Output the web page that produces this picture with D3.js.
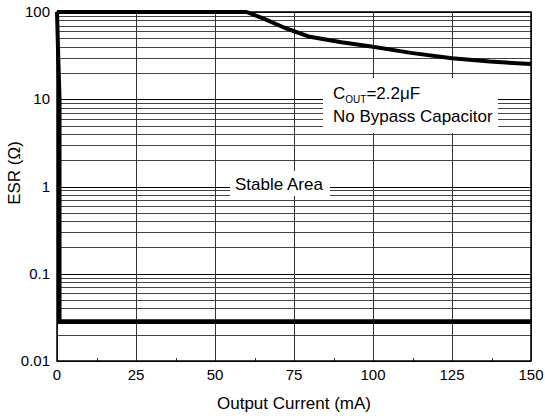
<!DOCTYPE html>
<html>
<head>
<meta charset="utf-8">
<script src="https://cdn.jsdelivr.net/npm/d3@7"></script>
<style>
  body { margin: 0; background: #fff; }
  text { font-family: "Liberation Sans", Arial, sans-serif; fill: #000; }
</style>
</head>
<body>
<div class="main"></div>
<script>
// data
var xTicks = [0, 25, 50, 75, 100, 125, 150];
var yTicks = [0.01, 0.1, 1, 10, 100];
var yTickLabels = ['0.01', '0.1', '1', '10', '100'];

// upper stability boundary
var upperCurrent = [0, 60, 65, 72, 80, 90, 100, 112, 125, 137, 150];
var upperEsr = [100, 100, 85, 66, 52, 45, 40, 34, 29.5, 27, 25.3];

// lower/left stability boundary
var lowerCurrent = [0, 0.4, 0.8, 0.8, 150];
var lowerEsr = [100, 30, 10, 0.028, 0.028];

var svg = d3.select('.main')
    .append('svg')
    .attr('width', 545)
    .attr('height', 419);

var x = d3.scaleLinear().domain([0, 150]).range([57, 531]);
var y = d3.scaleLog().domain([0.01, 100]).range([361, 12]);

// horizontal grid: decades and minor lines
var minor = [];
[0.01, 0.1, 1, 10].forEach(function (d) {
    for (var k = 2; k <= 9; k++) minor.push(d * k);
});

svg.selectAll('.minor')
    .data(minor)
    .enter()
    .append('line')
    .attr('class', 'minor')
    .attr('x1', x(0))
    .attr('x2', x(150))
    .attr('y1', function (d) { return Math.round(y(d)) + 0.5; })
    .attr('y2', function (d) { return Math.round(y(d)) + 0.5; })
    .style('stroke', '#444')
    .style('stroke-width', '1px');

svg.selectAll('.major')
    .data(yTicks)
    .enter()
    .append('line')
    .attr('class', 'major')
    .attr('x1', x(0))
    .attr('x2', x(150))
    .attr('y1', function (d) { return Math.round(y(d)) + 0.5; })
    .attr('y2', function (d) { return Math.round(y(d)) + 0.5; })
    .style('stroke', '#000')
    .style('stroke-width', '1px');

svg.selectAll('.vgrid')
    .data(xTicks)
    .enter()
    .append('line')
    .attr('class', 'vgrid')
    .attr('x1', function (d) { return Math.round(x(d)) + 0.5; })
    .attr('x2', function (d) { return Math.round(x(d)) + 0.5; })
    .attr('y1', y(100))
    .attr('y2', y(0.01))
    .style('stroke', '#333')
    .style('stroke-width', '1px');

// minor x ticks
svg.selectAll('.xminor')
    .data([12.5, 37.5, 62.5, 87.5, 112.5, 137.5])
    .enter()
    .append('line')
    .attr('x1', function (d) { return Math.round(x(d)) + 0.5; })
    .attr('x2', function (d) { return Math.round(x(d)) + 0.5; })
    .attr('y1', y(0.01))
    .attr('y2', y(0.01) - 3)
    .style('stroke', '#333');

// frame
svg.append('rect')
    .attr('x', x(0))
    .attr('y', y(100))
    .attr('width', x(150) - x(0))
    .attr('height', y(0.01) - y(100))
    .style('fill', 'none')
    .style('stroke', '#000')
    .style('stroke-width', '1.5px');

// label boxes (white, cover gridlines)
function note(x0, y0, w, h) {
    svg.append('rect')
        .attr('x', x0).attr('y', y0)
        .attr('width', w).attr('height', h)
        .style('fill', '#fff');
}
note(323, 78, 175, 55);
note(230, 171, 100, 25);

var label = svg.append('text')
    .attr('x', 333)
    .attr('y', 99)
    .style('font-size', '17px');
label.append('tspan').text('C');
label.append('tspan').text('OUT').style('font-size', '10px').attr('dy', 4);
label.append('tspan').text('=2.2μF').attr('dy', -4);

svg.append('text')
    .attr('x', 333)
    .attr('y', 122)
    .style('font-size', '17px')
    .text('No Bypass Capacitor');

svg.append('text')
    .attr('x', 235)
    .attr('y', 190)
    .style('font-size', '17px')
    .text('Stable Area');

// boundaries
var line = d3.line()
    .x(function (d) { return x(d[0]); })
    .y(function (d) { return y(d[1]); });

svg.append('path')
    .attr('d', line(d3.zip(upperCurrent, upperEsr)))
    .style('fill', 'none')
    .style('stroke', '#000')
    .style('stroke-width', '4px')
    .style('stroke-linejoin', 'round');

svg.append('path')
    .attr('d', line(d3.zip(lowerCurrent, lowerEsr)))
    .style('fill', 'none')
    .style('stroke', '#000')
    .style('stroke-width', '4px');

// tick labels
svg.selectAll('.xlabel')
    .data(xTicks)
    .enter()
    .append('text')
    .attr('x', function (d) { return x(d); })
    .attr('y', 380)
    .attr('text-anchor', 'middle')
    .style('font-size', '15px')
    .text(function (d) { return d; });

svg.selectAll('.ylabel')
    .data(yTicks)
    .enter()
    .append('text')
    .attr('x', 50)
    .attr('y', function (d) { return y(d) + 5; })
    .attr('text-anchor', 'end')
    .style('font-size', '15px')
    .text(function (d, i) { return yTickLabels[i]; });

// axis titles
svg.append('text')
    .attr('x', 294)
    .attr('y', 409)
    .attr('text-anchor', 'middle')
    .style('font-size', '17px')
    .text('Output Current (mA)');

svg.append('text')
    .attr('transform', 'translate(' + [20, 173] + ') rotate(-90)')
    .attr('text-anchor', 'middle')
    .style('font-size', '17px')
    .text('ESR (Ω)');
</script>
</body>
</html>
